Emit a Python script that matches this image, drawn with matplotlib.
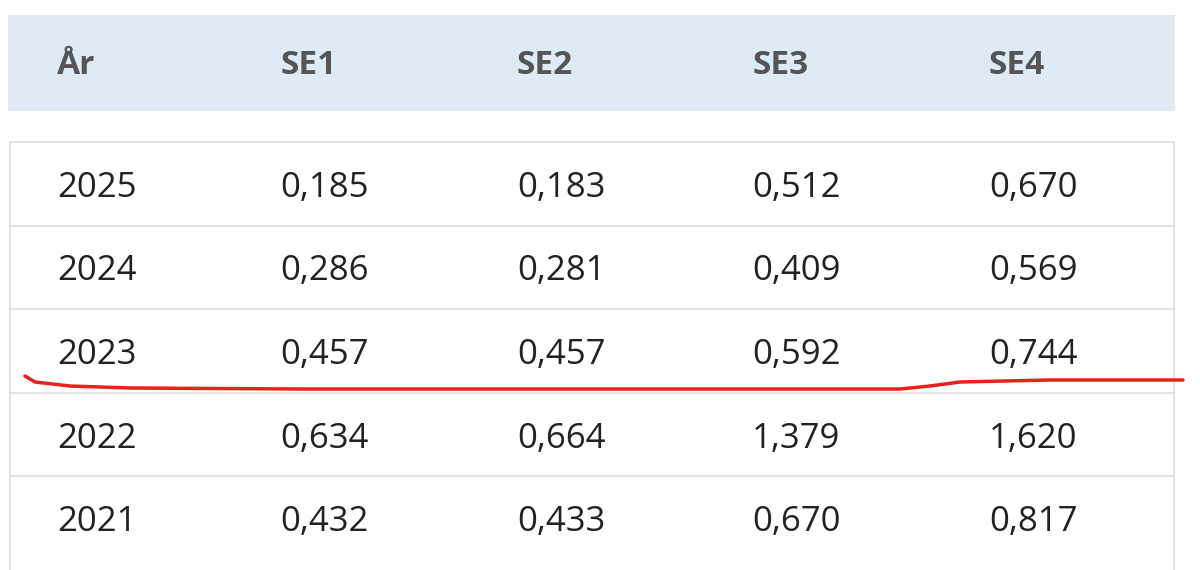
import matplotlib
matplotlib.use("Agg")
import matplotlib.pyplot as plt
from matplotlib.patches import Rectangle

headers = ["År", "SE1", "SE2", "SE3", "SE4"]
years = ["2025", "2024", "2023", "2022", "2021"]
se1 = ["0,185", "0,286", "0,457", "0,634", "0,432"]
se2 = ["0,183", "0,281", "0,457", "0,664", "0,433"]
se3 = ["0,512", "0,409", "0,592", "1,379", "0,670"]
se4 = ["0,670", "0,569", "0,744", "1,620", "0,817"]

# hand-drawn red mark under the 2023 row (pixel coords)
mark_x = [25, 35, 70, 130, 300, 600, 900, 930, 960, 1050, 1183]
mark_y = [376, 382, 386, 388, 389, 389, 389, 386, 382, 380, 380]

col_x = [57, 280, 517, 752, 989]
row_top = 142
row_h = 83.6

fig = plt.figure(figsize=(12, 5.7), dpi=100)
ax = fig.add_axes([0, 0, 1, 1])
ax.set_xlim(0, 1200)
ax.set_ylim(570, 0)
ax.axis("off")

ax.add_patch(Rectangle((8, 15), 1167, 96, facecolor="#deebf7", edgecolor="none"))
for x, h in zip(col_x, headers):
    ax.text(x, 66, h, fontsize=24, fontweight="bold", color="#555555",
            family="Open Sans", va="center", ha="left")

ax.add_patch(Rectangle((10, row_top), 1164, 440, facecolor="white",
                       edgecolor="#e4e4e4", lw=1.5))
rows = list(zip(years, se1, se2, se3, se4))
for i, row in enumerate(rows):
    yc = row_top + row_h * (i + 0.5)
    if i > 0:
        ax.plot([10, 1174], [row_top + row_h * i] * 2, color="#e4e4e4", lw=1.5)
    for x, v in zip(col_x, row):
        ax.text(x, yc + 4, v, fontsize=25, color="#222222", family="Open Sans",
                va="center", ha="left")

ax.plot(mark_x, mark_y, color="#e8211d", lw=2.5, solid_capstyle="round")

fig.savefig("out.png", dpi=100)
